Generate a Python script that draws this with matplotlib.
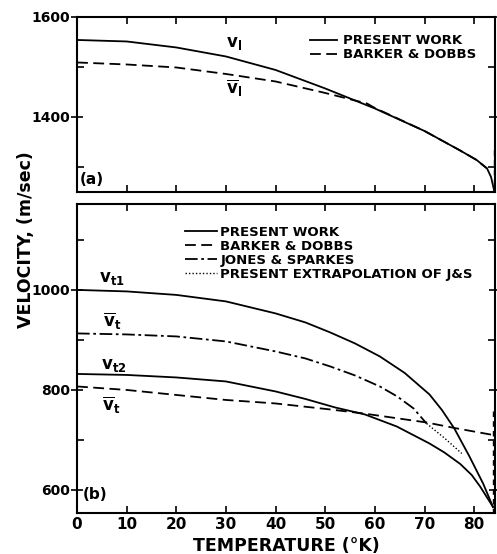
"""
Sound velocity in solid argon vs temperature, panels (a) and (b).
"""

import numpy as np
import matplotlib.pyplot as plt
from matplotlib.ticker import MultipleLocator

plt.rcParams['font.family'] = 'DejaVu Sans'
plt.rcParams['font.weight'] = 'bold'

# panel (a): longitudinal velocity
T_l = [0, 10, 20, 30, 40, 50, 60, 70, 77, 80.5, 82.6, 83.4, 84]
v_l = [1554, 1551, 1539, 1521, 1494, 1457, 1417, 1372, 1334, 1314, 1297, 1280, 1254]
T_l_bd = [0, 10, 20, 30, 40, 50, 58.4, 60, 70, 77, 80.5, 82.6]
v_l_bd = [1509, 1505, 1499, 1486, 1471, 1448, 1427, 1418, 1372, 1334, 1314, 1297]
T_melt_a = [84, 84]
v_melt_a = [1334, 1250]

# panel (b): transverse velocities
T_t1 = [0, 10, 20, 30, 40, 46, 51, 56, 61, 66, 71, 73.5, 76, 79, 81.8, 83.8]
v_t1 = [1000, 997, 990, 977, 953, 935, 915, 893, 867, 834, 791, 760, 723, 668, 613, 566]
T_t2 = [0, 10, 20, 30, 40, 46, 52, 58, 64.4, 71, 74, 77.2, 79.5, 81.2, 83.8]
v_t2 = [832, 830, 825, 817, 797, 782, 765, 751, 727, 693, 675, 652, 630, 607, 566]
T_js = [0, 10, 20, 30, 40, 46, 51, 56, 61, 64.5, 67.8, 70.4]
v_js = [913, 911, 907, 897, 877, 863, 847, 829, 807, 787, 763, 733]
T_js_ext = [70.4, 74, 77.5]
v_js_ext = [733, 704, 673]
T_t_bd = [0, 10, 20, 30, 40, 51, 57.7, 70.4, 76, 83.8]
v_t_bd = [807, 800, 790, 780, 773, 761, 753, 735, 724, 710]
T_melt_b = [83.8, 83.8]
v_melt_b = [757, 554]

fig = plt.figure(figsize=(4.97, 5.54), dpi=100)
axa = fig.add_axes([0.155, 0.6534, 0.841, 0.316])
axb = fig.add_axes([0.155, 0.074, 0.841, 0.558])

lw = 1.3
dash = (6, 3)
dashdot = (7, 2, 1.5, 2)

axa.plot(T_l, v_l, color='k', lw=lw, label='PRESENT WORK')
axa.plot(T_l_bd, v_l_bd, color='k', lw=lw, dashes=dash, label='BARKER & DOBBS')
axa.plot(T_melt_a, v_melt_a, color='k', lw=1.0, dashes=(4, 3))

axb.plot(T_t1, v_t1, color='k', lw=lw, label='PRESENT WORK')
axb.plot(T_t2, v_t2, color='k', lw=lw)
axb.plot(T_t_bd, v_t_bd, color='k', lw=lw, dashes=dash, label='BARKER & DOBBS')
axb.plot(T_js, v_js, color='k', lw=lw, dashes=dashdot, label='JONES & SPARKES')
axb.plot(T_js_ext, v_js_ext, color='k', lw=1.0, dashes=(1, 1.5),
         label='PRESENT EXTRAPOLATION OF J&S')
axb.plot(T_melt_b, v_melt_b, color='k', lw=1.0, dashes=(4, 3))

axa.set_xlim(0, 84.2)
axb.set_xlim(0, 84.2)
axa.set_ylim(1250, 1600)
axb.set_ylim(554, 1172)
axa.set_yticks([1400, 1600])
axb.set_yticks([600, 800, 1000])
for ax in (axa, axb):
    ax.yaxis.set_minor_locator(MultipleLocator(100))
    ax.xaxis.set_major_locator(MultipleLocator(10))
    ax.tick_params(which='major', axis='y', direction='inout', length=8, width=1.2,
                   labelsize=10, right=True, pad=1)
    ax.tick_params(which='minor', axis='y', direction='in', length=5, width=1.2, right=True)
    ax.tick_params(axis='x', direction='in', length=5, width=1.2, top=True, labelsize=11, pad=3)
    for s in ax.spines.values():
        s.set_linewidth(1.5)
axa.tick_params(axis='x', labelbottom=False)
axb.set_xticks(range(0, 90, 10))

axa.text(31.6, 1548, r'$\mathbf{v}_{\mathbf{l}}$', fontsize=12, ha='center', va='center')
axa.text(31.6, 1458, r'$\overline{\mathbf{v}}_{\mathbf{l}}$', fontsize=12, ha='center', va='center')
axa.text(3.0, 1276, '(a)', fontsize=11, ha='center', va='center')
axb.text(7.1, 1024, r'$\mathbf{v}_{\mathbf{t1}}$', fontsize=12, ha='center', va='center')
axb.text(7.1, 936, r'$\overline{\mathbf{v}}_{\mathbf{t}}$', fontsize=12, ha='center', va='center')
axb.text(7.5, 850, r'$\mathbf{v}_{\mathbf{t2}}$', fontsize=12, ha='center', va='center')
axb.text(6.9, 770, r'$\overline{\mathbf{v}}_{\mathbf{t}}$', fontsize=12, ha='center', va='center')
axb.text(3.6, 590, '(b)', fontsize=11, ha='center', va='center')

axa.legend(loc='upper left', bbox_to_anchor=(0.557, 0.9), frameon=False, fontsize=9.5,
           handlelength=2.05, handletextpad=0.45, labelspacing=0.05, borderpad=0,
           borderaxespad=0)
axb.legend(loc='upper left', bbox_to_anchor=(0.258, 0.93), frameon=False, fontsize=9.5,
           handlelength=2.4, handletextpad=0.3, labelspacing=0.08, borderpad=0,
           borderaxespad=0)

fig.text(0.052, 1 - 240 / 554, 'VELOCITY, (m/sec)', rotation=90, fontsize=12.5,
         ha='center', va='center', fontweight='bold')
fig.text(286 / 497, 1 - 546 / 554, 'TEMPERATURE (°K)', fontsize=12.5,
         ha='center', va='center', fontweight='bold')

plt.savefig('out.png', dpi=100)
